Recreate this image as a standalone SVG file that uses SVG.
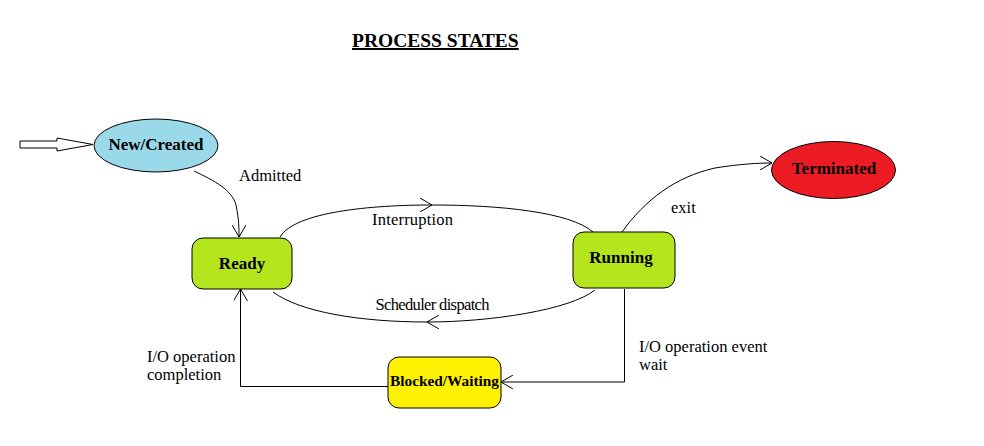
<svg xmlns="http://www.w3.org/2000/svg" width="984" height="446" viewBox="0 0 984 446">
<style>
.node{stroke:#000;stroke-width:1}
.nt{font-family:"Liberation Serif",serif;font-weight:bold;font-size:17px;fill:#000;text-anchor:middle}
.lbl{font-family:"Liberation Serif",serif;font-size:16.5px;fill:#000}
.edge{fill:none;stroke:#000;stroke-width:1}
</style>
<defs>
<marker id="arr" markerUnits="userSpaceOnUse" viewBox="0 0 13 14" refX="12" refY="7" markerWidth="13" markerHeight="14" orient="auto">
<path d="M0,0 L12,7 L0,14" fill="none" stroke="#000" stroke-width="1"/>
</marker>
</defs>
<rect width="984" height="446" fill="#fff"/>
<text x="352" y="47" font-family="Liberation Serif,serif" font-weight="bold" font-size="19.5px" text-decoration="underline">PROCESS STATES</text>
<g id="connectors">
<polygon points="20,141 57,141 57,138 93,144.5 57,151 57,148 20,148" fill="#fff" stroke="#000" stroke-width="1"/>
<path class="edge" d="M194,171 C215,181 232,190 236,205 C239,220 239,228 239,237" marker-end="url(#arr)"/>
<path class="edge" d="M280,237 C295,212 370,205 432,205" marker-end="url(#arr)"/>
<path class="edge" d="M432,205 C500,205 570,212 593,232"/>
<path class="edge" d="M595,290 C570,310 490,322 427,322" marker-end="url(#arr)"/>
<path class="edge" d="M427,322 C360,322 300,312 273,292"/>
<path class="edge" d="M622,232 C645,200 675,177 715,168 C740,164 758,163 772,163" marker-end="url(#arr)"/>
<path class="edge" d="M624.5,289 L624.5,382 L501,382" marker-end="url(#arr)"/>
<path class="edge" d="M388,386.5 L240.5,386.5 L240.5,289" marker-end="url(#arr)"/>
<text class="lbl" x="239" y="181">Admitted</text>
<text class="lbl" x="372" y="225" textLength="81">Interruption</text>
<text class="lbl" x="375.5" y="310" textLength="114">Scheduler dispatch</text>
<text class="lbl" x="671" y="213">exit</text>
<text class="lbl" x="147" y="362">I/O operation</text>
<text class="lbl" x="147" y="380">completion</text>
<text class="lbl" x="639" y="352">I/O operation event</text>
<text class="lbl" x="639" y="370">wait</text>
</g>
<g id="new">
<ellipse class="node" cx="156" cy="145.5" rx="62" ry="26.5" fill="#99D9EA"/>
<text class="nt" x="156" y="150">New/Created</text>
</g>
<g id="ready">
<rect class="node" x="192" y="238" width="100" height="51" rx="11" fill="#B5E61D"/>
<text class="nt" x="242" y="268.5">Ready</text>
</g>
<g id="running">
<rect class="node" x="573" y="232" width="102" height="56" rx="11" fill="#B5E61D"/>
<text class="nt" x="621" y="263">Running</text>
</g>
<g id="terminated">
<ellipse class="node" cx="833.5" cy="170" rx="62" ry="28.5" fill="#ED1C24"/>
<text class="nt" x="834" y="174">Terminated</text>
</g>
<g id="blocked">
<rect class="node" x="388" y="357" width="113" height="51" rx="11" fill="#FFF200"/>
<text class="nt" x="444.5" y="385.5" style="font-size:15.3px">Blocked/Waiting</text>
</g>
</svg>
